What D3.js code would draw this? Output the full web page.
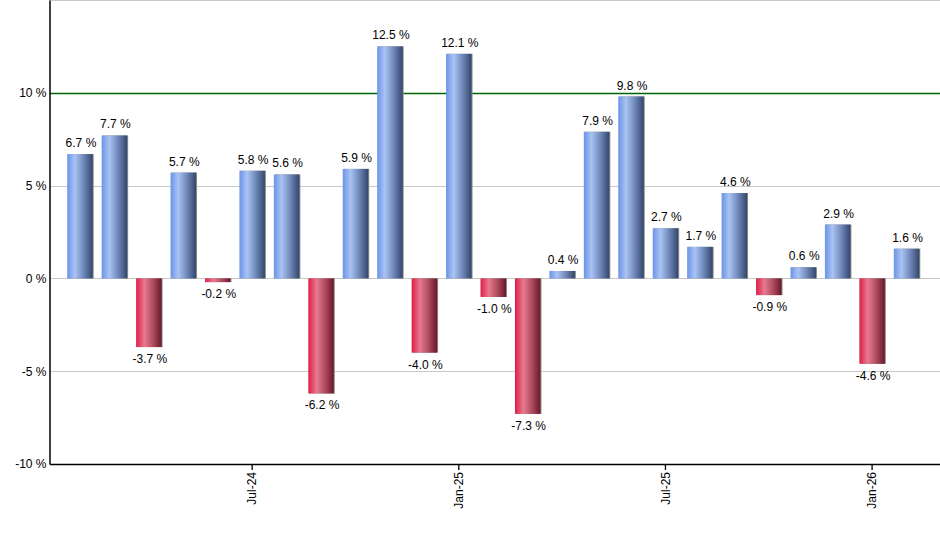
<!DOCTYPE html>
<html>
<head>
<meta charset="utf-8">
<script src="https://cdn.jsdelivr.net/npm/d3@7"></script>
<style>
  html, body { margin: 0; padding: 0; background: #fff; }
  svg { display: block; font-family: "Liberation Sans", Arial, sans-serif; }
</style>
</head>
<body>
<svg id="chart" width="940" height="550"></svg>
<script>
const months = ["Feb-24","Mar-24","Apr-24","May-24","Jun-24","Jul-24","Aug-24","Sep-24","Oct-24","Nov-24","Dec-24","Jan-25",
  "Feb-25","Mar-25","Apr-25","May-25","Jun-25","Jul-25","Aug-25","Sep-25","Oct-25","Nov-25","Dec-25","Jan-26","Feb-26"];
const values = [6.7, 7.7, -3.7, 5.7, -0.2, 5.8, 5.6, -6.2, 5.9, 12.5, -4.0, 12.1,
  -1.0, -7.3, 0.4, 7.9, 9.8, 2.7, 1.7, 4.6, -0.9, 0.6, 2.9, -4.6, 1.6];
const xTickLabels = ["Jul-24", "Jan-25", "Jul-25", "Jan-26"];
const yTicks = [-10, -5, 0, 5, 10];
const gridLevels = [-5, 0, 5, 15];
const highlightLevel = [10];

const svg = d3.select("#chart");
const plotLeft = 50, plotRight = 940, plotTop = 0, plotBottom = 464;

const x = d3.scaleBand().domain(months).range([plotLeft, plotRight - 3.5]).paddingInner(0.26).paddingOuter(0.5);
const y = d3.scaleLinear().domain([-10, 15]).range([plotBottom, plotTop]);

const defs = svg.append("defs");
function grad(id, stops) {
  const g = defs.append("linearGradient").attr("id", id).attr("x1", "0%").attr("x2", "100%").attr("y1", "0%").attr("y2", "0%");
  stops.forEach(([o, c]) => g.append("stop").attr("offset", o).attr("stop-color", c));
}
grad("gBlue", [["0%", "#6b93e8"], ["30%", "#a9c3f2"], ["60%", "#7790c2"], ["100%", "#33466c"]]);
grad("gRed", [["0%", "#db1f48"], ["33%", "#e8798f"], ["65%", "#b14e61"], ["100%", "#6a1728"]]);

// grid lines
svg.append("g").selectAll("line").data(gridLevels).join("line")
  .attr("x1", plotLeft).attr("x2", plotRight)
  .attr("y1", d => Math.round(y(d)) + 0.5).attr("y2", d => Math.round(y(d)) + 0.5)
  .attr("stroke", "#c8c8c8").attr("stroke-width", 1);
svg.append("g").selectAll("line").data(highlightLevel).join("line")
  .attr("x1", plotLeft).attr("x2", plotRight)
  .attr("y1", d => Math.round(y(d)) + 0.5).attr("y2", d => Math.round(y(d)) + 0.5)
  .attr("stroke", "#006400").attr("stroke-width", 1.3);

// bars
const bars = svg.append("g");
const data = months.map((m, i) => ({ m, v: values[i] }));
bars.selectAll("rect.shadow").data(data).join("rect").attr("class", "shadow")
  .attr("x", d => x(d.m) + 1)
  .attr("y", d => Math.min(y(d.v), y(0)))
  .attr("width", x.bandwidth())
  .attr("height", d => Math.abs(y(d.v) - y(0)))
  .attr("fill", "#8a8a8a");
bars.selectAll("rect.bar").data(data).join("rect").attr("class", "bar")
  .attr("x", d => x(d.m))
  .attr("y", d => Math.min(y(d.v), y(0)))
  .attr("width", x.bandwidth())
  .attr("height", d => Math.abs(y(d.v) - y(0)))
  .attr("fill", d => d.v >= 0 ? "url(#gBlue)" : "url(#gRed)");

// value labels
svg.append("g").selectAll("text").data(data).join("text")
  .attr("x", d => x(d.m) + x.bandwidth() / 2 + 1)
  .attr("y", d => d.v >= 0 ? y(d.v) - 7 : y(d.v) + 16)
  .attr("text-anchor", "middle")
  .attr("font-size", 12)
  .attr("fill", "#000")
  .text(d => d.v.toFixed(1) + " %");

// y axis
const yAxis = d3.axisLeft(y).tickValues(yTicks).tickSize(0).tickPadding(3).tickFormat(d => d + " %");
const ya = svg.append("g").attr("transform", `translate(${plotLeft - 0.5},0)`).call(yAxis);
ya.select(".domain").attr("stroke", "#000").attr("stroke-width", 1.5);
ya.selectAll("text").attr("font-size", 12).attr("font-family", "Liberation Sans, Arial, sans-serif").attr("fill", "#000");

// x axis
const xAxis = d3.axisBottom(x).tickValues(xTickLabels).tickSize(6).tickSizeOuter(0);
const xa = svg.append("g").attr("transform", `translate(0,${plotBottom})`).call(xAxis);
xa.select(".domain").attr("stroke", "#000").attr("stroke-width", 1.5).attr("d", `M${plotLeft},0.5H${plotRight}`);
xa.selectAll(".tick line").attr("stroke", "#000").attr("stroke-width", 1.3);
xa.selectAll("text")
  .attr("font-size", 12).attr("font-family", "Liberation Sans, Arial, sans-serif").attr("fill", "#000")
  .attr("transform", "rotate(-90)")
  .attr("text-anchor", "end")
  .attr("x", -8).attr("y", 0).attr("dy", "0.35em");
</script>
</body>
</html>
